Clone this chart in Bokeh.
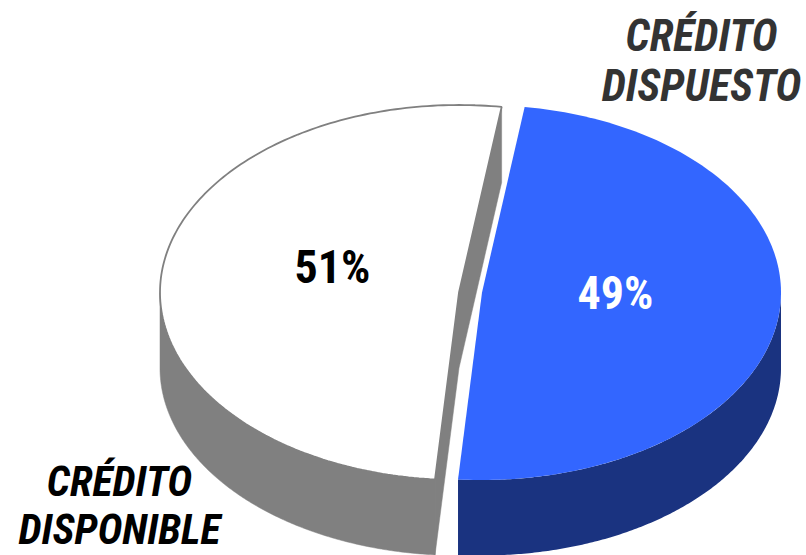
import numpy as np
from bokeh.plotting import figure
from bokeh.models import Range1d
from bokeh.core.properties import value
from bokeh.embed import file_html
from bokeh.resources import INLINE

# Data
categories = ["CRÉDITO DISPONIBLE", "CRÉDITO DISPUESTO"]
shares = [51, 49]
label_lines = [["CRÉDITO", "DISPONIBLE"], ["CRÉDITO", "DISPUESTO"]]

# Pie geometry (in reference pixels)
W, H = 806, 555
RX, RY, DEPTH = 299.0, 187.5, 75.5
CY = 292.0
CX = [458.5, 481.5]
START_DEG = 81.8

FONT = "Roboto Condensed"

p = figure(width=W, height=H, output_backend="svg", toolbar_location=None,
           x_range=Range1d(0, W), y_range=Range1d(H, 0), min_border=0,
           outline_line_color=None, background_fill_color="white",
           border_fill_color="white")
p.axis.visible = False
p.grid.visible = False


def arc(cx, t0, t1, dy=0.0):
    t = np.radians(np.linspace(t0, t1, 181))
    return cx + RX * np.cos(t), CY - RY * np.sin(t) + dy


total = sum(shares)
a_white0 = START_DEG
a_white1 = a_white0 + 360 * shares[0] / total
a_blue0 = a_white1
a_blue1 = a_blue0 + 360 * shares[1] / total

# White slice: outer wall (left/bottom) and cut faces
cx = CX[0]
ax, ay = arc(cx, 180, a_white1)
bx, by = arc(cx, a_white1, 180, DEPTH)
p.patch(np.r_[ax, bx], np.r_[ay, by], fill_color="#808080", line_color="#808080", line_width=0.5)

x0, y0 = arc(cx, a_white0, a_white0, 0)
x1, y1 = arc(cx, a_white1, a_white1, 0)
p.patch([x0[0], cx, x1[0], x1[0], cx, x0[0]],
        [y0[0], CY, y1[0], y1[0] + DEPTH, CY + DEPTH, y0[0] + DEPTH],
        fill_color="#808080", line_color="#808080", line_width=0.5)

tx, ty = arc(cx, a_white0, a_white1)
p.patch(np.r_[cx, tx], np.r_[CY, ty], fill_color="white", line_color="#808080", line_width=1.8)

# Blue slice: outer wall (bottom/right) then top
cx = CX[1]
ax, ay = arc(cx, a_blue0, 360)
bx, by = arc(cx, 360, a_blue0, DEPTH)
p.patch(np.r_[ax, bx], np.r_[ay, by], fill_color="#1A3380", line_color=None)
tx, ty = arc(cx, a_blue0, a_blue1)
p.patch(np.r_[cx, tx], np.r_[CY, ty], fill_color="#3366FF", line_color=None)

# Percent labels
p.text([332], [266], text=[f"{shares[0]}%"], text_color="black", text_font=value(FONT),
       text_font_style="bold", text_font_size="46px", text_align="center", text_baseline="middle")
p.text([615], [292], text=[f"{shares[1]}%"], text_color="white", text_font=value(FONT),
       text_font_style="bold", text_font_size="46px", text_align="center", text_baseline="middle")

# Category labels
for (xc, ys, col, size, lines) in [(119, (481, 529), "black", "42px", label_lines[0]),
                                   (701, (35, 85), "#333333", "44px", label_lines[1])]:
    for y, s in zip(ys, lines):
        p.text([xc], [y], text=[s], text_color=col, text_font=value(FONT),
               text_font_style="bold italic", text_font_size=size,
               text_align="center", text_baseline="middle")

open("out.html", "w").write(file_html(p, INLINE))
